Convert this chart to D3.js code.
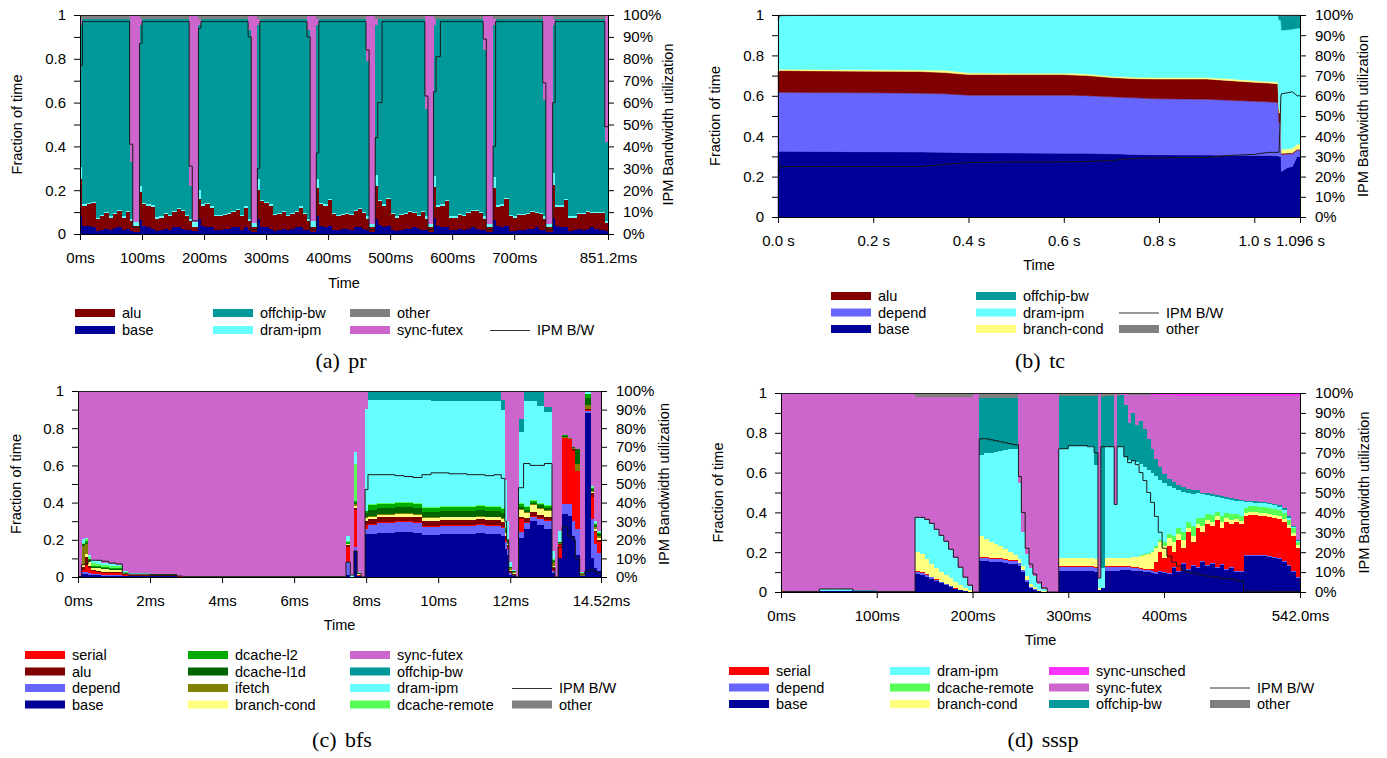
<!DOCTYPE html>
<html>
<head>
<meta charset="utf-8">
<script src="https://cdn.jsdelivr.net/npm/d3@7"></script>
<style>
  body { margin: 0; background: #fff; }
  svg text { font-family: "Liberation Sans", Arial, Helvetica, sans-serif; fill: #000; }
  .caption { font-family: "Liberation Serif", "Times New Roman", serif; }
</style>
</head>
<body>
<svg id="fig" width="1387" height="758"></svg>
<script>
// ---------- shared ticks ----------
var yTicks = [0, .1, .2, .3, .4, .5, .6, .7, .8, .9, 1];
var yTickLabels = ["0", "", "0.2", "", "0.4", "", "0.6", "", "0.8", "", "1"];
var pctTickLabels = ["0%", "10%", "20%", "30%", "40%", "50%", "60%", "70%", "80%", "90%", "100%"];

// ---------- (a) pr : sample start times (ms), last entry = end ----------
var prT = [
  0,4,11,18,25,32,39,46,53,60,67,74,80,85,
  96,100,107,114,121,128,135,142,149,156,163,170,176,181,
  191,195,202,209,216,223,230,237,244,251,258,265,271,276,
  286,290,297,304,311,318,325,332,339,346,353,360,366,371,
  381,385,392,399,406,413,420,427,434,441,448,455,461,466,
  476,480,487,494,501,508,515,522,529,536,543,550,556,561,
  570,574,581,588,595,602,609,616,623,630,637,644,650,655,
  666,670,677,684,691,698,705,712,719,726,733,740,746,751,
  762,766,773,780,787,794,801,808,815,822,829,836,846,
  851.2];
var prBase = [
  .08,.035,.035,.03,.012,.02,.025,.018,.028,.03,.02,.025,.015,.01,
  .065,.035,.03,.025,.015,.02,.025,.02,.03,.03,.025,.02,.02,.012,
  .07,.035,.03,.03,.02,.02,.022,.025,.03,.03,.02,.03,.02,.01,
  .07,.03,.03,.025,.015,.02,.025,.02,.025,.03,.03,.02,.02,.01,
  .08,.035,.03,.035,.02,.02,.022,.025,.02,.03,.03,.025,.02,.01,
  .07,.04,.03,.035,.02,.015,.02,.025,.025,.03,.025,.02,.02,.01,
  .075,.035,.03,.03,.02,.02,.025,.02,.025,.03,.025,.02,.02,.01,
  .065,.035,.03,.035,.015,.015,.02,.02,.025,.025,.03,.02,.02,.01,
  .075,.035,.03,.03,.015,.02,.025,.02,.025,.03,.025,.02,.015];
var prAlu = [
  .17,.095,.10,.11,.055,.06,.07,.057,.062,.075,.055,.075,.045,.025,
  .125,.10,.10,.10,.055,.055,.065,.06,.07,.085,.08,.06,.04,.02,
  .09,.095,.105,.09,.06,.06,.063,.065,.07,.08,.06,.09,.04,.02,
  .13,.12,.11,.105,.07,.07,.075,.06,.065,.07,.09,.07,.04,.02,
  .13,.10,.10,.12,.07,.06,.063,.065,.065,.075,.085,.07,.05,.02,
  .15,.11,.10,.125,.07,.06,.065,.065,.075,.065,.055,.08,.05,.02,
  .14,.09,.10,.12,.055,.055,.06,.06,.07,.075,.08,.075,.05,.02,
  .145,.09,.10,.125,.065,.06,.065,.065,.065,.075,.065,.07,.05,.02,
  .15,.09,.095,.125,.06,.055,.065,.07,.075,.065,.07,.075,.035];
var prDram = [
  .055,.006,.006,.006,.006,.006,.006,.006,.006,.006,.006,.006,.01,.02,
  .03,.006,.006,.006,.006,.006,.006,.006,.006,.006,.006,.006,.01,.025,
  .04,.006,.006,.006,.006,.006,.006,.006,.006,.006,.006,.006,.01,.02,
  .05,.006,.006,.006,.006,.006,.006,.006,.006,.006,.006,.006,.01,.03,
  .04,.006,.006,.006,.006,.006,.006,.006,.006,.006,.006,.006,.01,.015,
  .05,.006,.006,.006,.006,.006,.006,.006,.006,.006,.006,.006,.01,.015,
  .05,.006,.006,.006,.006,.006,.006,.006,.006,.006,.006,.006,.01,.015,
  .05,.006,.006,.006,.006,.006,.006,.006,.006,.006,.006,.006,.01,.015,
  .055,.006,.006,.006,.006,.006,.006,.006,.006,.006,.006,.006,.01];
var prOffchip = [
  .65,.844,.839,.834,.907,.894,.879,.899,.884,.869,.899,.874,.26,0,
  .735,.839,.844,.849,.904,.899,.884,.894,.874,.859,.869,.894,.15,0,
  .755,.844,.839,.854,.894,.894,.889,.884,.874,.864,.894,.854,.86,0,
  .705,.824,.834,.844,.889,.884,.874,.894,.884,.874,.854,.884,.86,0,
  .705,.839,.844,.819,.884,.894,.889,.884,.889,.869,.859,.879,.71,0,
  .685,.824,.844,.814,.884,.899,.889,.884,.874,.879,.894,.874,.49,0,
  .69,.849,.844,.824,.899,.899,.889,.894,.879,.869,.869,.879,.76,0,
  .695,.849,.844,.814,.894,.899,.889,.889,.884,.874,.879,.884,.53,0,
  .675,.849,.849,.819,.899,.899,.884,.884,.874,.879,.879,.879,.36];
var prSync = [
  .025,0,0,0,0,0,0,0,0,0,0,0,.67,.945,
  .025,0,0,0,0,0,0,0,0,0,0,0,.78,.943,
  .025,0,0,0,0,0,0,0,0,0,0,0,.07,.95,
  .025,0,0,0,0,0,0,0,0,0,0,0,.07,.94,
  .025,0,0,0,0,0,0,0,0,0,0,0,.21,.955,
  .025,0,0,0,0,0,0,0,0,0,0,0,.43,.955,
  .025,0,0,0,0,0,0,0,0,0,0,0,.16,.955,
  .025,0,0,0,0,0,0,0,0,0,0,0,.39,.955,
  .025,0,0,0,0,0,0,0,0,0,0,0,.58];
var prOther = [
  .02,.02,.02,.02,.02,.02,.02,.02,.02,.02,.02,.02,0,0,
  .02,.02,.02,.02,.02,.02,.02,.02,.02,.02,.02,.02,0,0,
  .02,.02,.02,.02,.02,.02,.02,.02,.02,.02,.02,.02,0,0,
  .02,.02,.02,.02,.02,.02,.02,.02,.02,.02,.02,.02,0,0,
  .02,.02,.02,.02,.02,.02,.02,.02,.02,.02,.02,.02,0,0,
  .02,.02,.02,.02,.02,.02,.02,.02,.02,.02,.02,.02,0,0,
  .02,.02,.02,.02,.02,.02,.02,.02,.02,.02,.02,.02,0,0,
  .02,.02,.02,.02,.02,.02,.02,.02,.02,.02,.02,.02,0,0,
  .02,.02,.02,.02,.02,.02,.02,.02,.02,.02,.02,.02,0];
var prBW = [
  .77,.97,.97,.97,.97,.97,.97,.97,.97,.97,.97,.97,.41,.03,
  .87,.97,.97,.97,.97,.97,.97,.97,.97,.97,.97,.97,.31,.06,
  .94,.97,.97,.97,.97,.97,.97,.97,.97,.97,.97,.97,.9,.02,
  .3,.97,.97,.97,.97,.97,.97,.97,.97,.97,.97,.97,.9,.02,
  .37,.97,.97,.97,.97,.97,.97,.97,.97,.97,.97,.97,.84,.02,
  .44,.6,.97,.97,.97,.97,.97,.97,.97,.97,.97,.97,.63,.02,
  .65,.81,.97,.97,.97,.97,.97,.97,.97,.97,.97,.97,.89,.02,
  .4,.97,.97,.97,.97,.97,.97,.97,.97,.97,.97,.97,.69,.02,
  .6,.97,.97,.97,.97,.97,.97,.97,.97,.97,.97,.97,.49];
var prTicks = [0, 100, 200, 300, 400, 500, 600, 700, 851.2];
var prTickLabels = ["0ms", "100ms", "200ms", "300ms", "400ms", "500ms", "600ms", "700ms", "851.2ms"];

// ---------- (b) tc : points (s) ----------
var tcT = [0,.005,.1,.2,.3,.35,.4,.5,.6,.62,.65,.7,.75,.8,.9,.95,1.0,1.03,1.05,1.052,1.056,1.057,1.07,1.08,1.09,1.096];
var tcBase = [.325,.325,.324,.323,.322,.32,.318,.317,.316,.316,.315,.313,.31,.308,.307,.306,.305,.304,.303,.3,.3,.225,.245,.25,.3,.3];
var tcDepend = [.29,.292,.292,.292,.291,.29,.285,.286,.287,.287,.285,.282,.28,.277,.276,.272,.268,.266,.264,.165,.165,.085,.067,.063,.03,.03];
var tcAlu = [.107,.108,.107,.107,.107,.105,.102,.102,.102,.1,.1,.095,.095,.098,.1,.097,.094,.093,.093,.05,.05,.005,.005,.005,.005,.005];
var tcBranch = [.007,.007,.007,.007,.008,.012,.009,.007,.007,.009,.008,.007,.007,.007,.007,.009,.008,.008,.008,.015,.015,.02,.02,.022,.025,.025];
var tcDram = [.246,.265,.268,.269,.27,.271,.284,.286,.286,.286,.29,.301,.306,.308,.308,.314,.323,.327,.33,.445,.445,.59,.59,.59,.575,.575];
var tcOffchip = [0,0,0,0,0,0,0,0,0,0,0,0,0,0,0,0,0,0,0,.02,.02,.07,.068,.065,.06,.06];
var tcOther = [.025,.003,.002,.002,.002,.002,.002,.002,.002,.002,.002,.002,.002,.002,.002,.002,.002,.002,.002,.005,.005,.005,.005,.005,.005,.005];
var tcBW = [.23,.25,.25,.25,.25,.26,.27,.272,.273,.274,.275,.28,.29,.293,.295,.305,.31,.32,.32,.32,.6,.61,.615,.62,.6,.6];
var tcTicks = [0, .2, .4, .6, .8, 1.0, 1.096];
var tcTickLabels = ["0.0 s", "0.2 s", "0.4 s", "0.6 s", "0.8 s", "1.0 s", "1.096 s"];

// ---------- (c) bfs : sample start times (ms), last entry = end ----------
var bfsT = [0,0.1,0.2,0.28,0.37,0.5,0.65,0.85,1.05,1.23,1.39,2.0,2.74,2.9,7.44,7.56,7.66,7.75,7.86,7.97,
  8.05,8.3,8.55,8.8,9.05,9.3,9.55,9.8,10.05,10.3,10.55,10.8,11.05,11.3,11.55,
  11.75,11.85,11.9,11.96,12.05,12.15,12.23,12.37,12.55,12.75,12.95,13.16,13.24,13.33,13.44,13.6,13.72,13.81,13.93,14.07,14.23,14.33,14.42,
  14.52];
var bfsBase = [.005,.015,.015,.01,.01,.01,.008,.008,.008,.005,.003,.003,.002,.002,.01,0,.14,.005,0,.23,
  .23,.235,.235,.24,.24,.235,.225,.225,.23,.23,.23,.23,.235,.23,.23,
  .22,.15,.12,.01,.005,0,.21,.26,.3,.28,.26,.02,0,.1,.34,.33,.22,.12,.005,.88,.1,.05,.03];
var bfsDepend = [0,.01,.01,.01,.005,.005,.005,.005,.005,.003,.002,.002,0,0,.07,0,.02,0,0,.03,
  .05,.055,.055,.055,.055,.055,.045,.045,.045,.045,.045,.045,.045,.045,.045,
  .045,.04,.03,.01,.005,0,.03,.03,.025,.03,.04,.01,0,0,.055,.06,.08,.14,0,.01,.21,.13,.1];
var bfsSerial = [0,.01,.04,.03,.015,.012,.01,.01,.01,.005,.003,.003,.001,0,.08,0,.2,.005,0,.02,
  .005,.005,.005,.005,.005,.005,.005,.005,.005,.005,.005,.005,.005,.005,.005,
  .005,.01,.01,.01,.003,0,.07,.005,.005,.005,.005,.01,0,.07,.35,.35,.38,.31,0,.01,.12,.06,.06];
var bfsAlu = [0,.02,.04,.01,.005,.005,.005,.005,.005,.002,.002,.001,0,0,.01,0,.01,0,0,.02,
  .025,.025,.025,.025,.025,.025,.025,.025,.025,.025,.025,.025,.025,.025,.025,
  .025,.02,.01,0,.003,0,.01,.02,.02,.02,.02,.01,0,.005,.005,0,.01,0,0,.005,.02,.01,.01];
var bfsBranch = [0,.01,.02,.02,.015,.015,.015,.012,.012,.005,.004,.004,.004,.001,.01,0,.01,.005,0,.015,
  .015,.015,.015,.015,.015,.015,.015,.015,.015,.015,.015,.015,.015,.015,.015,
  .015,.015,.01,.01,.005,0,.04,.03,.035,.03,.03,.01,0,.005,0,0,0,0,.005,0,.005,.01,.01];
var bfsIfetch = [0,.1,.05,0,0,0,0,0,0,0,0,0,0,0,0,0,.01,.005,0,.01,
  .005,.005,.005,.005,.005,.005,.005,.005,.005,.005,.005,.005,.005,.005,.005,
  .005,.005,.005,.01,.005,0,.005,.005,.005,.005,.005,.02,0,.005,.005,.005,.005,.04,.01,.02,.01,.01,.01];
var bfsL1d = [0,.01,.01,.005,.005,.005,.005,.005,.005,.002,.001,.001,0,0,0,0,.01,0,0,.02,
  .03,.03,.03,.03,.03,.03,.03,.03,.03,.03,.03,.03,.03,.03,.03,
  .03,.015,.01,.005,.004,0,.01,.01,.01,.015,.01,.005,0,.005,.005,.005,.005,.08,0,.04,.01,.01,.01];
var bfsL2 = [0,0,.01,.01,.005,.005,.005,.005,.005,.002,.001,.001,0,0,.01,0,.01,0,0,.01,
  .025,.025,.025,.025,.025,.025,.02,.02,.02,.02,.02,.02,.02,.02,.02,
  .02,.01,.005,0,0,0,.015,.015,.01,.01,.01,.005,0,0,.005,0,0,0,0,.02,.005,.005,.005];
var bfsRemote = [0,.01,.01,.015,.015,.013,.012,.01,.01,.003,.002,.001,0,0,.005,0,.2,0,0,0,
  .005,.005,.005,.005,.005,.005,.005,.005,.005,.005,.005,.005,.005,.005,.005,
  .005,.005,0,0,0,0,.01,.005,.005,.005,.005,.005,0,0,0,0,0,0,0,0,.005,.005,.005];
var bfsDram = [0,.02,.005,.01,.015,.015,.01,.01,.005,.003,.002,.002,.001,.002,.025,.01,.06,.005,0,.55,
  .56,.55,.55,.545,.545,.55,.575,.57,.565,.565,.565,.565,.56,.565,.565,
  .53,.25,.1,.025,.01,0,.38,.565,.53,.52,.5,.045,0,.055,0,0,0,0,.005,.015,.005,.01,.01];
var bfsOffchip = [0,0,0,0,0,0,0,0,0,0,0,0,0,0,0,0,0,0,0,0,
  .05,.05,.05,.05,.05,.05,.05,.055,.055,.055,.055,.055,.055,.055,.055,
  .05,0,0,0,0,0,.07,.055,.055,.08,.03,0,0,0,0,0,0,0,0,0,0,0,0];
var bfsSync = [.995,.795,.79,.88,.91,.915,.925,.93,.935,.97,.98,.982,.992,.995,.78,.99,.33,.975,1,.095,
  0,0,0,0,0,0,0,0,0,0,0,0,0,0,0,
  .05,.48,.7,.92,.96,1,.15,0,0,0,.085,.86,1,.755,.235,.25,.3,.31,.975,0,.51,.7,.75];
var bfsBW = [0,.066,.07,.09,.09,.09,.085,.075,.07,.02,.015,.01,.005,.002,.08,.01,.14,.02,0,.47,
  .55,.55,.55,.545,.54,.535,.55,.56,.56,.555,.555,.55,.55,.545,.55,
  .53,.3,.2,.03,.01,0,.48,.61,.6,.6,.61,.05,0,.16,.27,.22,.2,.1,.01,.03,.04,.03,.02];
var bfsTicks = [0, 2, 4, 6, 8, 10, 12, 14.52];
var bfsTickLabels = ["0ms", "2ms", "4ms", "6ms", "8ms", "10ms", "12ms", "14.52ms"];

// ---------- (d) sssp : sample start times (ms), last entry = end ----------
var ssspT = [0,3,40,55,75,100,140,145,150,155,160,165,170,175,180,185,190,195,200,
  207,212,217,222,227,232,237,242,248,251,255,259,263,267,272,278,290,300,310,320,327,331,334,338,348,351,
  354,358,362,366,370,374,378,382,386,390,394,398,403,408,413,418,423,428,433,438,443,448,453,458,463,468,473,478,
  483,488,493,498,503,508,513,518,523,528,533,538,542];
var ssspBase = [.002,0,.003,.003,.003,.002,
  .09,.085,.075,.065,.055,.045,.035,.025,.015,.01,.005,.002,0,
  .155,.155,.15,.15,.15,.145,.14,.14,.13,.1,.05,.02,.01,.005,.002,0,
  .105,.105,.105,.105,.1,.01,.02,.105,.105,.105,
  .11,.11,.11,.108,.105,.105,.1,.1,.095,.09,.1,.095,.09,.12,.1,.14,.11,.13,.12,.15,
  .13,.14,.12,.135,.11,.12,.1,.1,.183,.183,.183,.18,.18,.178,.17,.165,.15,.13,.1,.07];
var ssspDepend = [0,0,.002,0,0,0,
  .01,.01,.01,.008,.006,.005,.004,.003,.002,.002,.001,0,0,
  .018,.018,.018,.018,.018,.018,.018,.018,.015,.01,.01,.005,.003,0,0,0,
  .02,.02,.02,.02,.02,0,0,.02,.02,.02,
  .015,.015,.015,.014,.015,.013,.013,.012,.01,.01,.008,.008,.007,.007,.007,.007,.007,.007,.007,.007,
  .007,.007,.007,.007,.007,.007,.007,.007,.005,.005,.005,.005,.005,.005,.005,.005,.005,.005,.005,.005];
var ssspSerial = [.005,0,0,.004,0,0,
  .005,.004,.003,.002,.002,.001,.001,.001,.001,0,0,0,0,
  .004,.004,.004,.004,.004,.004,.004,.004,.003,.003,.002,.002,0,0,0,0,
  .005,.005,.005,.005,.005,0,0,.005,.005,.005,
  .005,.005,.005,.005,.005,.005,.005,.005,.01,.05,.092,.067,.133,.073,.153,.073,.183,.113,.193,.143,
  .203,.183,.233,.178,.233,.213,.243,.233,.192,.197,.197,.195,.195,.192,.195,.195,.195,.185,.175,.145];
var ssspBranch = [.003,0,0,0,.002,0,
  .095,.091,.077,.065,.057,.049,.045,.041,.032,.023,.014,.008,0,
  .103,.088,.078,.068,.058,.048,.038,.023,.02,.02,.02,.015,.01,.005,.002,0,
  .04,.04,.04,.04,.04,.01,0,.04,.04,.04,
  .04,.04,.04,.048,.05,.057,.067,.073,.085,.07,.05,.06,.04,.05,.03,.04,.02,.03,.02,.03,
  .02,.02,.02,.03,.02,.02,.015,.015,.015,.015,.015,.015,.015,.015,.015,.015,.015,.015,.015,.015];
var ssspRemote = [0,0,0,0,0,0,
  0,0,0,0,0,0,0,0,0,0,0,0,0,
  0,0,0,0,0,0,0,0,0,0,0,0,0,0,0,0,
  0,0,0,0,0,0,0,0,0,0,
  .002,.002,.002,.002,.003,.005,.005,.005,.005,.01,.01,.02,.02,.03,.03,.04,.03,.05,.03,.04,
  .03,.035,.02,.03,.025,.03,.025,.025,.025,.03,.03,.03,.03,.03,.03,.03,.03,.025,.025,.015];
var ssspDram = [.002,0,.008,.006,.003,0,
  .175,.182,.195,.2,.19,.18,.165,.14,.12,.085,.05,.02,0,
  .41,.435,.45,.465,.48,.5,.52,.535,.382,.167,.108,.078,.057,.03,.011,0,
  .55,.565,.565,.565,.475,.05,.1,.56,.27,.56,
  .556,.508,.493,.483,.477,.46,.44,.42,.395,.355,.305,.3,.245,.245,.195,.205,.15,.16,.13,.12,
  .095,.095,.075,.09,.07,.07,.068,.075,.032,.02,.018,.02,.02,.02,.02,.015,.015,.01,.005,.005];
var ssspOffchip = [0,0,.002,.002,0,0,
  0,0,0,0,0,0,0,0,0,0,0,0,0,
  .285,.275,.275,.27,.265,.26,.255,.255,0,0,0,0,0,0,0,0,
  .265,.25,.25,.25,.345,0,.86,.255,0,.255,
  .262,.26,.185,.24,.185,.215,.19,.155,.12,.085,.065,.045,.035,.028,.022,.023,.02,.022,.015,.01,
  .01,.01,.012,.01,.01,.01,.01,.007,.006,.007,.007,.007,.005,.008,.008,.01,.01,.01,.005,.005];
var ssspSync = [.988,1,.985,.985,.992,.998,
  .605,.608,.62,.64,.67,.7,.73,.77,.81,.86,.91,.95,1,
  0,0,0,0,0,0,0,0,.45,.7,.81,.88,.92,.96,.985,1,
  0,0,0,0,0,.93,0,0,.56,0,
  .005,.053,.142,.092,.152,.132,.171,.221,.271,.321,.36,.394,.418,.435,.45,.459,.466,.474,.471,.486,
  .491,.496,.498,.505,.51,.515,.517,.522,.526,.527,.529,.532,.534,.536,.541,.549,.564,.604,.654,.724];
var ssspUnsched = [0,0,0,0,0,0,
  0,0,0,0,0,0,0,0,0,0,0,0,0,
  0,0,0,0,0,0,0,0,0,0,0,0,0,0,0,0,
  0,0,0,0,0,0,0,0,0,0,
  0,.002,.003,.003,.003,.003,.004,.004,.009,.009,.01,.011,.012,.012,.013,.013,.014,.014,.014,.014,
  .014,.014,.015,.015,.015,.015,.015,.016,.016,.016,.016,.016,.016,.016,.016,.016,.016,.016,.016,.016];
var ssspOther = [0,0,0,0,0,0,
  .02,.02,.02,.02,.02,.02,.02,.02,.02,.02,.02,.02,0,
  .025,.025,.025,.025,.025,.025,.025,.025,0,0,0,0,0,0,0,0,
  .015,.015,.015,.015,.015,0,.02,.015,0,.015,
  .005,.005,.005,.005,.005,.005,.005,.005,0,0,0,0,0,0,0,0,0,0,0,0,
  0,0,0,0,0,0,0,0,0,0,0,0,0,0,0,0,0,0,0,0];
var ssspBW = [.005,.002,.015,.015,.005,.002,
  .375,.375,.365,.345,.315,.285,.255,.215,.175,.125,.075,.035,0,
  .77,.77,.765,.76,.755,.75,.745,.74,.58,.4,.22,.14,.09,.05,.02,0,
  .72,.735,.735,.73,.7,.07,.73,.73,.44,.73,
  .73,.68,.65,.66,.64,.6,.56,.5,.45,.38,.3,.22,.18,.15,.13,.11,.1,.095,.09,.085,
  .08,.078,.075,.07,.068,.065,.06,.055,.005,.004,.004,.004,.004,.004,.003,.003,.003,.003,.003,.003];
var ssspTicks = [0, 100, 200, 300, 400, 542];
var ssspTickLabels = ["0ms", "100ms", "200ms", "300ms", "400ms", "542.0ms"];

// ---------- legends: [name, column, row] ----------
var prLegend = [["alu",0,0],["base",0,1],["offchip-bw",1,0],["dram-ipm",1,1],["other",2,0],["sync-futex",2,1],["IPM B/W",3,1]];
var tcLegend = [["alu",0,0],["depend",0,1],["base",0,2],["offchip-bw",1,0],["dram-ipm",1,1],["branch-cond",1,2],["IPM B/W",2,1],["other",2,2]];
var bfsLegend = [["serial",0,0],["alu",0,1],["depend",0,2],["base",0,3],["dcache-l2",1,0],["dcache-l1d",1,1],["ifetch",1,2],["branch-cond",1,3],
  ["sync-futex",2,0],["offchip-bw",2,1],["dram-ipm",2,2],["dcache-remote",2,3],["IPM B/W",3,2],["other",3,3]];
var ssspLegend = [["serial",0,0],["depend",0,1],["base",0,2],["dram-ipm",1,0],["dcache-remote",1,1],["branch-cond",1,2],
  ["sync-unsched",2,0],["sync-futex",2,1],["offchip-bw",2,2],["IPM B/W",3,1],["other",3,2]];

var colors = {
  "base": "#000096",
  "depend": "#6666ff",
  "serial": "#ff0000",
  "alu": "#800000",
  "branch-cond": "#ffff80",
  "ifetch": "#808000",
  "dcache-l1d": "#006400",
  "dcache-l2": "#00aa00",
  "dcache-remote": "#55ff55",
  "dram-ipm": "#66ffff",
  "offchip-bw": "#009999",
  "sync-futex": "#cc66cc",
  "sync-unsched": "#ff33ff",
  "other": "#808080"
};

var panels = [
  { times: prT, step: true,
    keys: ["base","alu","dram-ipm","offchip-bw","sync-futex","other"],
    series: {"base": prBase, "alu": prAlu, "dram-ipm": prDram, "offchip-bw": prOffchip, "sync-futex": prSync, "other": prOther},
    bw: prBW, ticks: prTicks, tickLabels: prTickLabels,
    box: [80, 608, 15, 234], titleX: [17, 668], timeY: 288,
    legend: prLegend, legCols: [75, 213, 350, 490], legRows: [313, 330],
    caption: "(a) pr", cap: [341, 368] },
  { times: tcT, step: false,
    keys: ["base","depend","alu","branch-cond","dram-ipm","offchip-bw","other"],
    series: {"base": tcBase, "depend": tcDepend, "alu": tcAlu, "branch-cond": tcBranch, "dram-ipm": tcDram, "offchip-bw": tcOffchip, "other": tcOther},
    bw: tcBW, ticks: tcTicks, tickLabels: tcTickLabels,
    box: [778, 1300, 15, 217], titleX: [715, 1363], timeY: 270,
    legend: tcLegend, legCols: [831, 976, 1119], legRows: [296, 312.5, 329],
    caption: "(b) tc", cap: [1040, 368] },
  { times: bfsT, step: true,
    keys: ["base","depend","serial","alu","branch-cond","ifetch","dcache-l1d","dcache-l2","dcache-remote","dram-ipm","offchip-bw","sync-futex"],
    series: {"base": bfsBase, "depend": bfsDepend, "serial": bfsSerial, "alu": bfsAlu, "branch-cond": bfsBranch, "ifetch": bfsIfetch,
      "dcache-l1d": bfsL1d, "dcache-l2": bfsL2, "dcache-remote": bfsRemote, "dram-ipm": bfsDram, "offchip-bw": bfsOffchip, "sync-futex": bfsSync},
    bw: bfsBW, ticks: bfsTicks, tickLabels: bfsTickLabels,
    box: [78, 601, 391, 577], titleX: [16, 664], timeY: 630,
    legend: bfsLegend, legCols: [25, 188, 350, 512], legRows: [655, 671.5, 688, 704.5],
    caption: "(c) bfs", cap: [342, 747] },
  { times: ssspT, step: true,
    keys: ["base","depend","serial","branch-cond","dcache-remote","dram-ipm","offchip-bw","sync-futex","other","sync-unsched"],
    series: {"base": ssspBase, "depend": ssspDepend, "serial": ssspSerial, "branch-cond": ssspBranch, "dcache-remote": ssspRemote,
      "dram-ipm": ssspDram, "offchip-bw": ssspOffchip, "sync-futex": ssspSync, "sync-unsched": ssspUnsched, "other": ssspOther},
    bw: ssspBW, ticks: ssspTicks, tickLabels: ssspTickLabels,
    box: [781, 1300, 393, 592], titleX: [718, 1364], timeY: 645,
    legend: ssspLegend, legCols: [729, 890, 1049, 1210], legRows: [671, 687.5, 704],
    caption: "(d) sssp", cap: [1043, 747] }
];

var svg = d3.select("#fig");

function buildRows(p) {
  var n = p.series[p.keys[0]].length;
  var rows = [];
  for (var i = 0; i < n; i++) {
    var r = { t: p.times[i], bw: p.bw[i] };
    p.keys.forEach(function (k) { r[k] = p.series[k][i]; });
    rows.push(r);
  }
  if (p.step) {
    // extend last step to the end time
    var last = Object.assign({}, rows[n - 1]);
    last.t = p.times[n];
    rows.push(last);
  }
  return rows;
}

function styleAxis(g) {
  g.attr("font-size", 15)
   .attr("font-family", "'Liberation Sans', Arial, sans-serif");
  g.selectAll("line").attr("stroke", "#000");
  g.selectAll("path").attr("stroke", "#000");
}

function drawPanel(p) {
  var left = p.box[0], right = p.box[1], top = p.box[2], bottom = p.box[3];
  var g = svg.append("g");
  var tEnd = p.times[p.times.length - 1];
  var x = d3.scaleLinear().domain([0, tEnd]).range([left, right]);
  var y = d3.scaleLinear().domain([0, 1]).range([bottom, top]);
  var curve = p.step ? d3.curveStepAfter : d3.curveLinear;

  var rows = buildRows(p);
  var stacked = d3.stack().keys(p.keys)(rows);
  var area = d3.area()
    .x(function (d) { return x(d.data.t); })
    .y0(function (d) { return y(d[0]); })
    .y1(function (d) { return y(d[1]); })
    .curve(curve);

  g.append("g")
    .selectAll("path")
    .data(stacked)
    .enter()
    .append("path")
    .attr("d", area)
    .attr("fill", function (d) { return colors[d.key]; })
    .attr("stroke", p.step ? "none" : function (d) { return colors[d.key]; })
    .attr("stroke-width", 0.5)
    .attr("shape-rendering", p.step ? "crispEdges" : "auto");

  var line = d3.line()
    .x(function (d) { return x(d.t); })
    .y(function (d) { return y(d.bw); })
    .curve(curve);
  g.append("path")
    .datum(rows)
    .attr("d", line)
    .attr("fill", "none")
    .attr("stroke", "#1a1a1a")
    .attr("stroke-width", 1);

  // frame top
  g.append("line")
    .attr("x1", left).attr("x2", right)
    .attr("y1", top + 0.5).attr("y2", top + 0.5)
    .attr("stroke", "#222");

  g.append("g")
    .attr("transform", "translate(" + left + ",0)")
    .call(d3.axisLeft(y).tickValues(yTicks)
      .tickFormat(function (d, i) { return yTickLabels[i]; })
      .tickSize(6).tickSizeOuter(0).tickPadding(8))
    .call(styleAxis);

  g.append("g")
    .attr("transform", "translate(" + right + ",0)")
    .call(d3.axisRight(y).tickValues(yTicks)
      .tickFormat(function (d, i) { return pctTickLabels[i]; })
      .tickSize(6).tickSizeOuter(0).tickPadding(9))
    .call(styleAxis);

  g.append("g")
    .attr("transform", "translate(0," + bottom + ")")
    .call(d3.axisBottom(x).tickValues(p.ticks)
      .tickFormat(function (d, i) { return p.tickLabels[i]; })
      .tickSize(6).tickSizeOuter(0).tickPadding(12))
    .call(styleAxis);

  var midY = (top + bottom) / 2;
  g.append("text")
    .attr("transform", "translate(" + p.titleX[0] + "," + midY + ") rotate(-90)")
    .attr("text-anchor", "middle").attr("dy", "0.35em")
    .attr("font-size", 14.5)
    .text("Fraction of time");
  g.append("text")
    .attr("transform", "translate(" + p.titleX[1] + "," + midY + ") rotate(-90)")
    .attr("text-anchor", "middle").attr("dy", "0.35em")
    .attr("font-size", 14.5)
    .text("IPM Bandwidth utilization");
  g.append("text")
    .attr("x", (left + right) / 2).attr("y", p.timeY)
    .attr("text-anchor", "middle")
    .attr("font-size", 14.5)
    .text("Time");

  // legend
  var lg = g.append("g");
  p.legend.forEach(function (e) {
    var sx = p.legCols[e[1]], sy = p.legRows[e[2]];
    if (e[0] === "IPM B/W") {
      lg.append("line")
        .attr("x1", sx).attr("x2", sx + 40)
        .attr("y1", sy + 0.5).attr("y2", sy + 0.5)
        .attr("stroke", "#333").attr("stroke-width", 1);
    } else {
      lg.append("rect")
        .attr("x", sx).attr("y", sy - 4)
        .attr("width", 40).attr("height", 8)
        .attr("fill", colors[e[0]]);
    }
    lg.append("text")
      .attr("x", sx + 47).attr("y", sy)
      .attr("dy", "0.35em")
      .attr("font-size", 14.5)
      .text(e[0]);
  });

  g.append("text")
    .attr("class", "caption")
    .attr("x", p.cap[0]).attr("y", p.cap[1])
    .attr("text-anchor", "middle")
    .attr("font-size", 22)
    .attr("word-spacing", 3)
    .text(p.caption);
}

panels.forEach(drawPanel);
</script>
</body>
</html>
